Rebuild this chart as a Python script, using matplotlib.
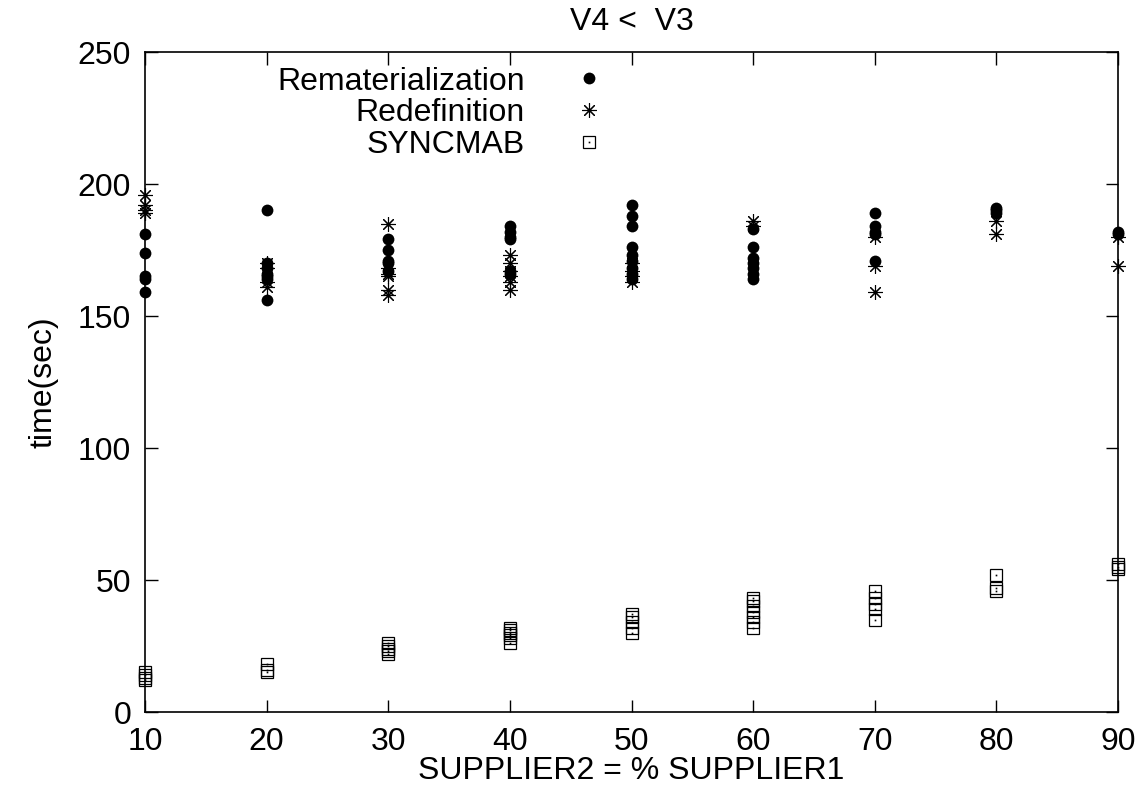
import matplotlib
matplotlib.use("Agg")
import matplotlib.pyplot as plt
from matplotlib.lines import Line2D

plt.rcParams['font.family'] = ['Liberation Sans', 'DejaVu Sans']

x_ticks = [10, 20, 30, 40, 50, 60, 70, 80, 90]
y_ticks = [0, 50, 100, 150, 200, 250]

remat = {
    10: [181, 174, 165, 164, 159],
    20: [190, 170, 168, 166, 165, 164, 156],
    30: [179, 175, 171, 170, 167],
    40: [184, 182, 180, 179, 167, 166],
    50: [192, 188, 184, 176, 173, 171, 168, 166, 164],
    60: [183, 176, 172, 170, 168, 166, 164],
    70: [189, 184, 182, 181, 171],
    80: [191, 190, 189],
    90: [182, 181],
}
redef = {
    10: [196, 192, 190, 189],
    20: [170, 168, 163, 161],
    30: [185, 168, 166, 165, 160, 158],
    40: [173, 170, 167, 165, 163, 160],
    50: [170, 167, 165, 163],
    60: [186, 184],
    70: [180, 169, 159],
    80: [186, 181],
    90: [180, 169],
}
syncmab = {
    10: [12, 13, 14, 15],
    20: [15, 16, 18],
    30: [22, 23, 24, 25, 26],
    40: [26, 28, 29, 30, 31, 32],
    50: [30, 32, 34, 36, 37],
    60: [32, 34, 36, 38, 40, 42, 43],
    70: [35, 39, 41, 43, 46],
    80: [46, 47, 52],
    90: [54, 55, 56],
}

def flat(d):
    xs, ys = [], []
    for k, vals in d.items():
        for v in vals:
            xs.append(k)
            ys.append(v)
    return xs, ys

fig = plt.figure(figsize=(11.41, 7.92), dpi=100)
ax = fig.add_axes([145/1141, 80/792, (1118-145)/1141, (712-52)/792])

FS = 23
DOT = dict(linestyle='none', marker='o', ms=8.5, color='black', mew=0)
STAR = dict(linestyle='none', marker=(8, 2, 0), ms=10.5, mew=0.8, color='black')
SQ = dict(linestyle='none', marker='s', ms=8.5, mfc='none', mec='black', mew=0.9)
SQD = dict(linestyle='none', marker='s', ms=1.2, color='black', mew=0)

rx, ry = flat(remat)
dx, dy = flat(redef)
sx, sy = flat(syncmab)

ax.plot(dx, dy, clip_on=False, **STAR)
ax.plot(rx, ry, clip_on=False, **DOT)
ax.plot(sx, sy, clip_on=False, **SQ)
ax.plot(sx, sy, clip_on=False, **SQD)

ax.set_xlim(10, 90)
ax.set_ylim(0, 250)
ax.set_xticks(x_ticks)
ax.set_yticks(y_ticks)
ax.tick_params(direction='in', length=9, width=1, top=True, right=True, labelsize=FS)
ax.tick_params(axis='x', pad=11)
ax.tick_params(axis='y', pad=10)
for s in ax.spines.values():
    s.set_linewidth(1.2)

ax.set_xlabel('SUPPLIER2 = % SUPPLIER1', fontsize=FS, labelpad=-1)
ax.set_ylabel('time(sec)', fontsize=FS, labelpad=14)
ax.set_title('V4 <  V3', fontsize=FS, pad=16)

h_rem = Line2D([], [], **DOT)
h_red = Line2D([], [], **STAR)
h_sq = Line2D([], [], **SQ)
h_dot = Line2D([], [], **SQD)
leg = ax.legend([h_rem, h_red, (h_sq, h_dot)], ['Rematerialization', 'Redefinition', 'SYNCMAB'],
                loc='upper right', bbox_to_anchor=(0.489, 0.978), frameon=False,
                markerfirst=False, fontsize=FS, handletextpad=1.0, labelspacing=0.05,
                borderpad=0, borderaxespad=0, numpoints=1)

fig.savefig('out.png', dpi=100)
